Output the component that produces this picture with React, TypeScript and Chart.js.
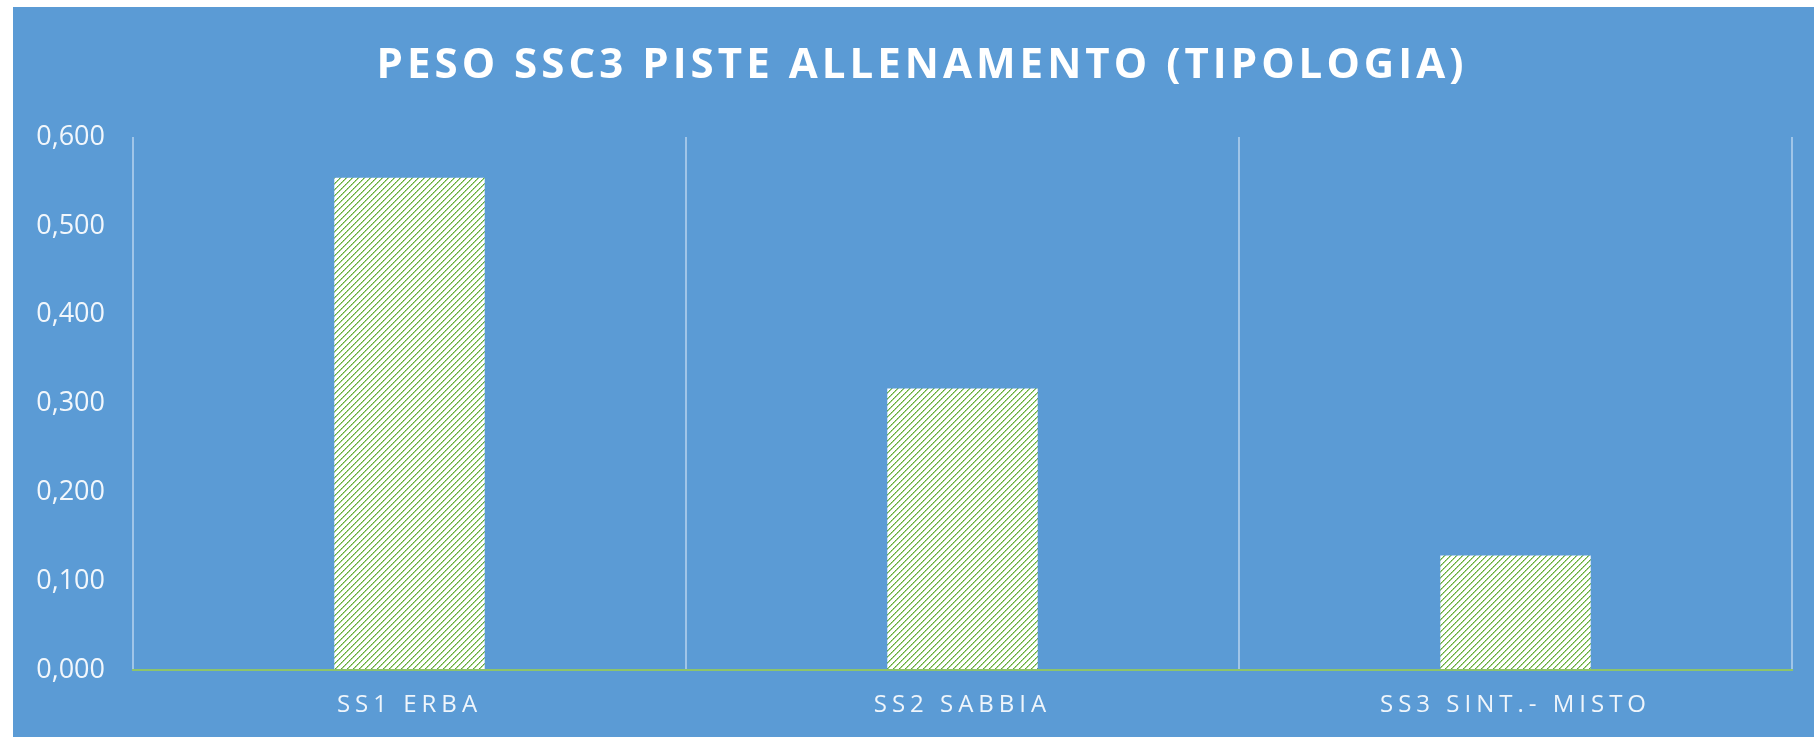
import React, { useEffect, useRef } from "react";
import { Chart, registerables } from "chart.js";

Chart.register(...registerables);

const titleText = "PESO SSC3 PISTE ALLENAMENTO (TIPOLOGIA)";
const categories = ["SS1 ERBA", "SS2 SABBIA", "SS3 SINT.- MISTO"];
const weights = [0.554, 0.317, 0.129];
const yTickLabels = ["0,000", "0,100", "0,200", "0,300", "0,400", "0,500", "0,600"];

const BG = "#5b9bd5";
const FONT = "'Open Sans', 'DejaVu Sans', sans-serif";

function makePattern(): CanvasPattern | string {
  const n = 6;
  const c = document.createElement("canvas");
  c.width = n;
  c.height = n;
  const g = c.getContext("2d");
  if (!g) return "#ffffff";
  g.fillStyle = "#ffffff";
  g.fillRect(0, 0, n, n);
  for (let i = 0; i < n; i++) {
    const y = n - 1 - i;
    g.fillStyle = i % 2 === 0 ? "#5ea636" : "#7dbb55";
    g.fillRect(i, y, 1, 1);
    g.fillStyle = "#a8d48a";
    g.fillRect((i + 1) % n, y, 1, 1);
  }
  const p = g.createPattern(c, "repeat");
  return p || "#ffffff";
}

export default function App() {
  const ref = useRef<HTMLCanvasElement | null>(null);

  useEffect(() => {
    const canvas = ref.current;
    if (!canvas) return;

    const spacingPlugin = {
      id: "spacing",
      beforeDraw(chart: any) {
        chart.ctx.letterSpacing = "0px";
      },
      afterDatasetsDraw(chart: any) {
        chart.ctx.letterSpacing = "5px";
      },
      afterDraw(chart: any) {
        const ctx = chart.ctx;
        ctx.letterSpacing = "0px";
        ctx.save();
        ctx.font = `bold 42px ${FONT}`;
        const n = titleText.length;
        const raw = ctx.measureText(titleText).width;
        const target = 1087;
        const ls = Math.max(0, (target - raw) / (n - 1));
        ctx.letterSpacing = `${ls}px`;
        ctx.fillStyle = "#ffffff";
        ctx.textAlign = "left";
        ctx.textBaseline = "alphabetic";
        ctx.fillText(titleText, 907 - target / 2, 71);
        ctx.restore();
        ctx.letterSpacing = "0px";
      },
    };

    const chart = new Chart(canvas, {
      type: "bar",
      data: {
        labels: categories,
        datasets: [
          {
            data: weights,
            backgroundColor: makePattern() as any,
            borderWidth: 0,
            categoryPercentage: 1,
            barPercentage: 0.272,
          },
        ],
      },
      options: {
        responsive: false,
        animation: false,
        layout: { padding: { top: 130, right: 22, left: 0, bottom: 0 } },
        plugins: {
          legend: { display: false },
          title: { display: false },
          tooltip: { enabled: false },
        },
        scales: {
          x: {
            type: "category",
            grid: {
              offset: true,
              color: "rgba(190,215,240,0.7)",
              lineWidth: 2,
              drawTicks: false,
            },
            border: { display: true, color: "#8ec46a", width: 2, z: 1 },
            ticks: {
              color: "rgba(255,255,255,0.9)",
              font: { family: FONT, size: 24 },
              padding: 21,
              z: 1,
              maxRotation: 0,
              autoSkip: false,
            },
            afterFit(scale: any) {
              scale.height = 67;
            },
          },
          y: {
            min: 0,
            max: 0.6,
            grid: { display: false, drawTicks: false },
            border: { display: false },
            ticks: {
              stepSize: 0.1,
              color: "rgba(255,255,255,0.92)",
              font: { family: FONT, size: 27 },
              padding: 28,
              callback: (_v: any, i: number) => yTickLabels[i],
            },
            afterFit(scale: any) {
              scale.width = 120;
            },
          },
        },
      },
      plugins: [spacingPlugin],
    });

    return () => chart.destroy();
  }, []);

  return (
    <div
      style={{
        position: "fixed",
        left: 13,
        top: 7,
        width: 1801,
        height: 730,
        background: BG,
      }}
    >
      <canvas ref={ref} width={1801} height={730} style={{ display: "block" }} />
    </div>
  );
}
